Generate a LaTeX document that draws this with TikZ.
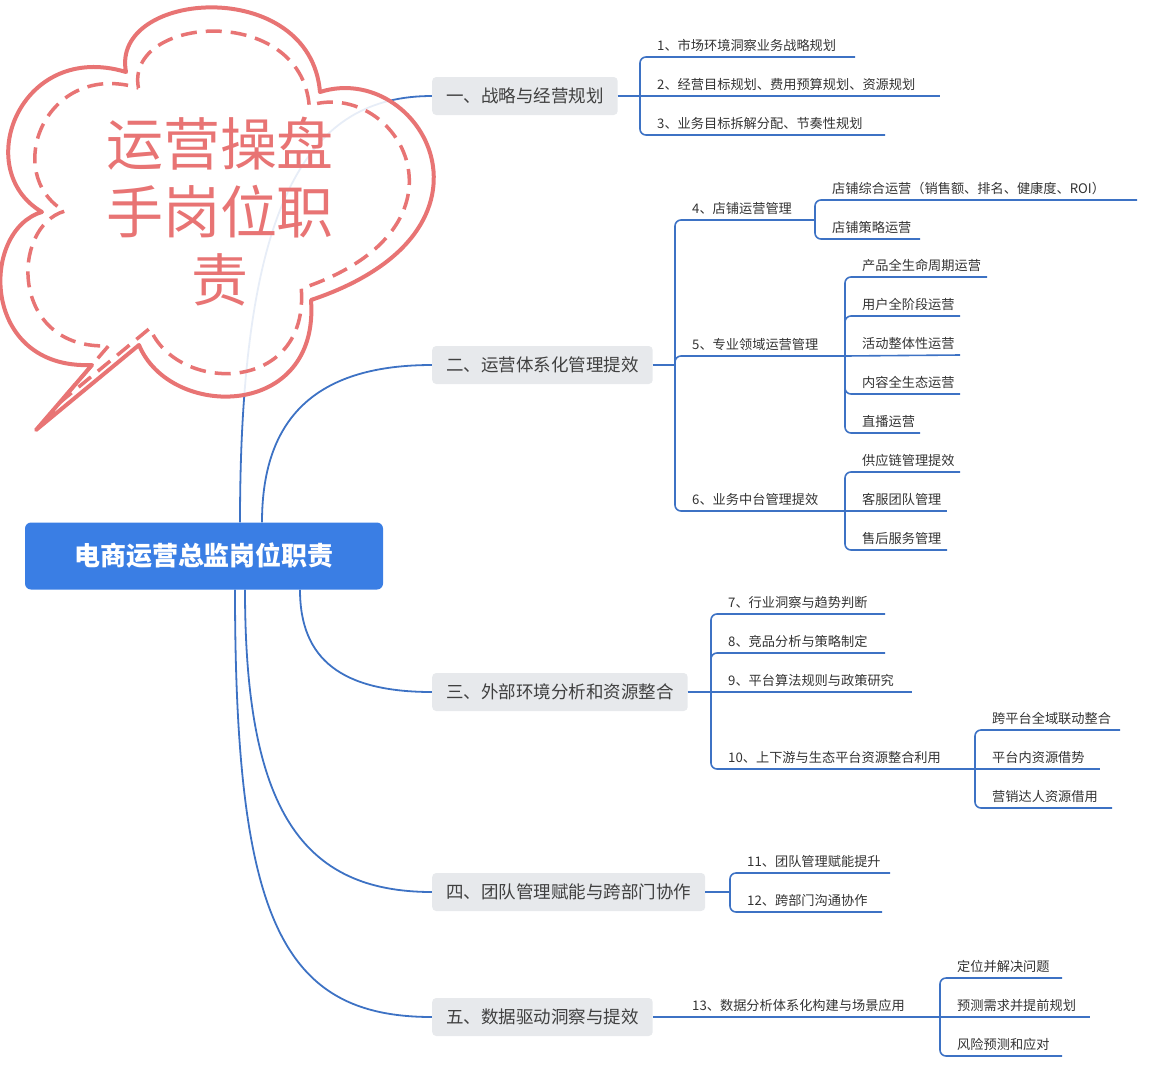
\documentclass[tikz,border=0pt]{standalone}
\usepackage{fontspec}
\setmainfont{Noto Sans CJK SC}
\usetikzlibrary{positioning,backgrounds}
\definecolor{mapblue}{HTML}{3D72C4}
\definecolor{rootblue}{HTML}{3A7EE4}
\definecolor{boxgrey}{HTML}{E7E9EC}
\definecolor{cloudpink}{HTML}{E87474}
\tikzset{
  trunk/.style = {draw=mapblue, line width=1.8pt},
  br/.style = {draw=mapblue, line width=1.6pt, rounded corners=6pt},
  topic/.style = {fill=boxgrey, rounded corners=4pt, minimum height=38pt, inner xsep=14pt,
                  anchor=west, text=black!75, font=\fontsize{17.5}{20}\selectfont},
  leaf/.style = {anchor=base west, inner sep=0pt, text=black!80, font=\fontsize{13.2}{15}\selectfont},
}
% parent point, bracket x, list of y/xend/name/text
\newcommand{\branch}[3]{%
  \foreach \y/\xe/\nm/\txt in {#3}{
    \coordinate (\nm) at (#2,\y);
    \coordinate (\nm-e) at (\xe,\y);
    \node [leaf] (\nm-t) at ([shift={(17pt,7pt)}]\nm) {\txt};
    \draw [mapblue, line width=1.6pt] (#1) -- (#1 -| \nm);
    \path (#1); \pgfgetlastxy{\px}{\py}%
    \path (\nm); \pgfgetlastxy{\qx}{\qy}%
    \ifdim\dimexpr\py-\qy\relax>1pt
      \draw [br] (#1 -| \nm) |- (\nm-e);
    \else\ifdim\dimexpr\qy-\py\relax>1pt
      \draw [br] (#1 -| \nm) |- (\nm-e);
    \else
      \draw [br] (#1 -| \nm) -- (\nm-e);
    \fi\fi
  }}
\newcommand{\cloudpath}{(126,72) .. controls (110,-10) and (310,-25) .. (320,92)
  .. controls (420,60) and (520,230) .. (311,300)
  .. controls (320,420) and (170,420) .. (139,345)
  -- (36,430) -- (92,365)
  .. controls (-20,370) and (-20,230) .. (42,212)
  .. controls (-30,170) and (20,40) .. (126,72) -- cycle}
\begin{document}
\begin{tikzpicture}[x=1pt, y=-1pt]
  \useasboundingbox (0,0) rectangle (1160,1080);

  \node [fill=rootblue, rounded corners=6pt, minimum width=358pt, minimum height=67pt,
         text=white, font=\fontsize{26}{28}\selectfont\bfseries] (root) at (204,556) {电商运营总监岗位职责};

  \node [topic] (n1) at (432,96) {一、战略与经营规划};
  \node [topic] (n2) at (432,365) {二、运营体系化管理提效};
  \node [topic] (n3) at (432,692) {三、外部环境分析和资源整合};
  \node [topic] (n4) at (432,892) {四、团队管理赋能与跨部门协作};
  \node [topic] (n5) at (432,1017) {五、数据驱动洞察与提效};

  \begin{scope}[on background layer]
    \draw [trunk] ([xshift=36pt]root.north) .. controls +(0,-330) and +(-120,0) .. (n1.west);
    \draw [trunk] ([xshift=58pt]root.north) .. controls +(0,-110) and +(-110,0) .. (n2.west);
    \draw [trunk] ([xshift=96pt]root.south) .. controls +(0,70) and +(-90,0) .. (n3.west);
    \draw [trunk] ([xshift=41pt]root.south) .. controls +(0,220) and +(-130,0) .. (n4.west);
    \draw [trunk] ([xshift=31pt]root.south) .. controls +(0,330) and +(-150,0) .. (n5.west);
  \end{scope}

  \branch{n1.east}{640}{57/855/b1/1、市场环境洞察业务战略规划, 96/940/b2/2、经营目标规划、费用预算规划、资源规划,
    135/885/b3/3、业务目标拆解分配、节奏性规划}

  \branch{n2.east}{675}{220/815/b4/4、店铺运营管理, 356/845/b5/5、专业领域运营管理, 511/845/b6/6、业务中台管理提效}
  \branch{b4-e}{815}{200/1137/b41/店铺综合运营（销售额、排名、健康度、ROI）, 239/920/b42/店铺策略运营}
  \branch{b5-e}{845}{277/987/b51/产品全生命周期运营, 316/960/b52/用户全阶段运营, 355/960/b53/活动整体性运营,
    394/960/b54/内容全生态运营, 433/920/b55/直播运营}
  \branch{b6-e}{845}{472/960/b61/供应链管理提效, 511/947/b62/客服团队管理, 550/947/b63/售后服务管理}

  \branch{n3.east}{711}{614/885/b7/7、行业洞察与趋势判断, 653/885/b8/8、竞品分析与策略制定,
    692/912/b9/9、平台算法规则与政策研究, 769/975/b10/10、上下游与生态平台资源整合利用}
  \branch{b10-e}{975}{730/1120/b101/跨平台全域联动整合, 769/1100/b102/平台内资源借势, 808/1112/b103/营销达人资源借用}

  \branch{n4.east}{730}{873/890/b11/11、团队管理赋能提升, 912/882/b12/12、跨部门沟通协作}

  \branch{n5.east}{675}{1017/940/b13/13、数据分析体系化构建与场景应用}
  \branch{b13-e}{940}{978/1062/b131/定位并解决问题, 1017/1090/b132/预测需求并提前规划, 1056/1062/b133/风险预测和应对}

  % callout cloud
  \fill [white, opacity=0.88] \cloudpath;
  \draw [cloudpink, line width=4pt, line join=round] \cloudpath;
  \begin{scope}[shift={(230,205)}, scale=0.88, shift={(-230,-205)}]
    \draw [cloudpink, line width=3.5pt, dash pattern=on 16pt off 9pt, line join=round] \cloudpath;
  \end{scope}
  \node [cloudpink, align=center, font=\fontsize{57}{68}\selectfont] (cloudtext) at (220,212) {运营操盘\\手岗位职\\责};
\end{tikzpicture}
\end{document}
